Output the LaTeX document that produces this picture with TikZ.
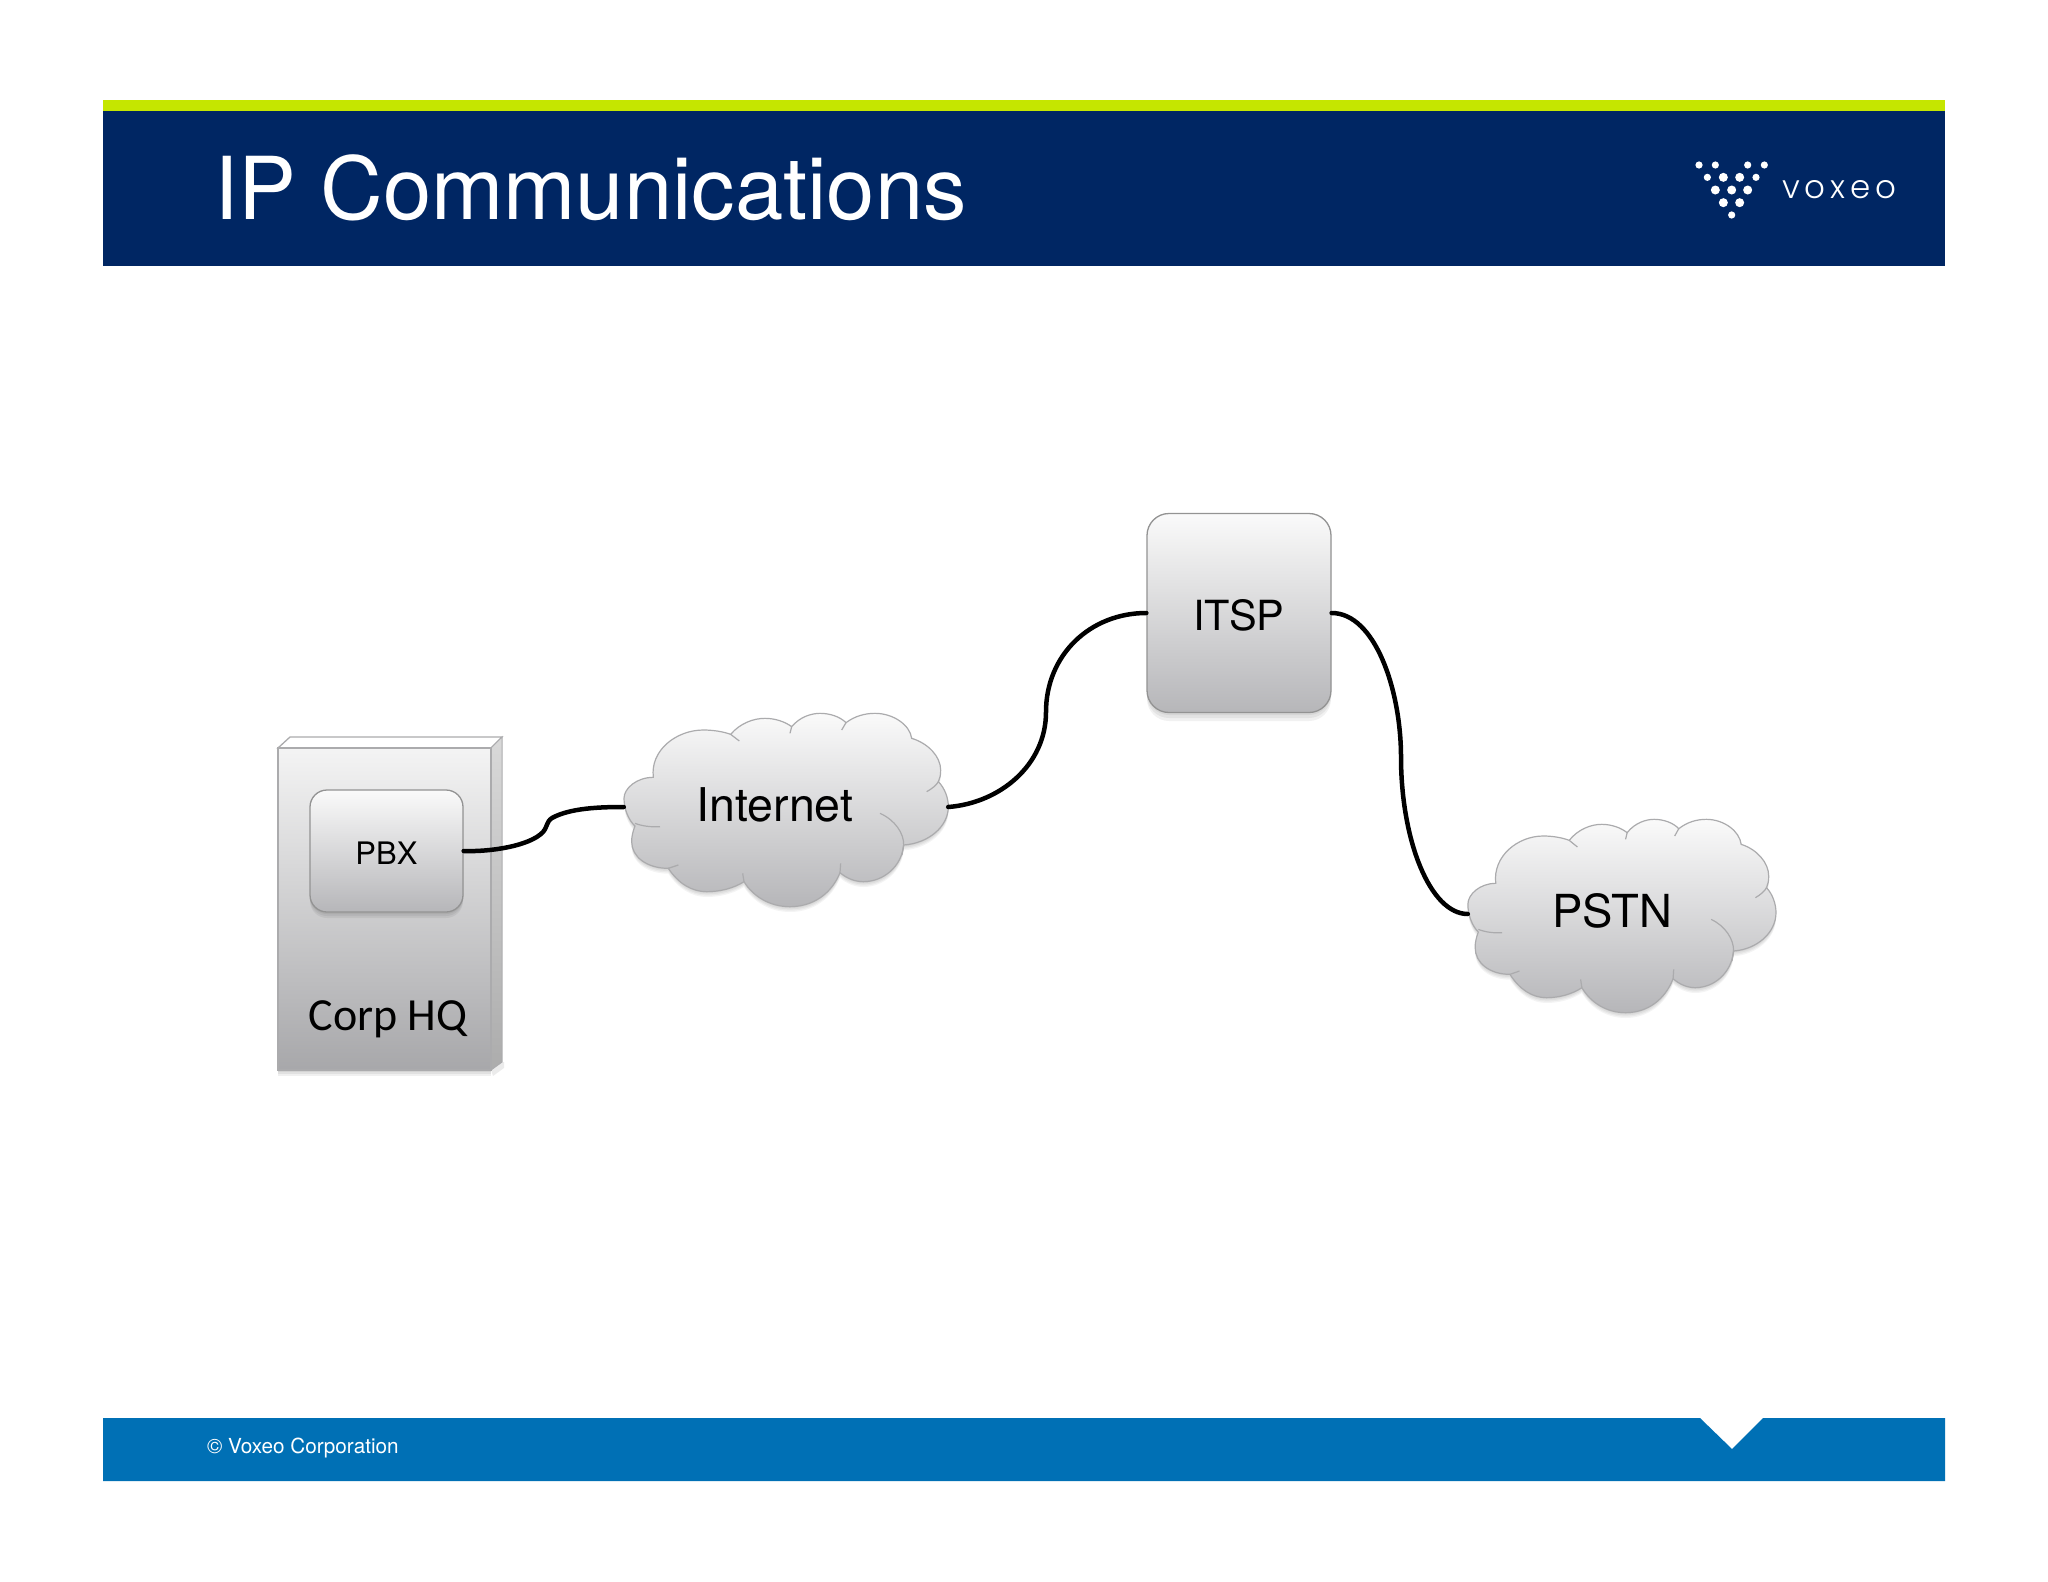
\documentclass[tikz,border=0pt]{standalone}
\usepackage{fontspec}
\setmainfont{TeX Gyre Heros}
\newfontfamily\calibrifont{Carlito}
\newfontfamily\logofont[UprightFont={* Light},LetterSpace=15]{Poppins}
\usetikzlibrary{positioning}
\definecolor{navy}{HTML}{002663}
\definecolor{lime}{HTML}{C5E600}
\definecolor{footblue}{HTML}{0070B5}
\definecolor{edgegray}{HTML}{ABABAD}
\definecolor{gradtop}{HTML}{FAFAFA}
\definecolor{gradbot}{HTML}{B6B6B9}
\newcommand{\fs}[1]{\fontsize{#1pt}{#1pt}\selectfont}
\newcommand{\cloudoutline}{
  (160,262) .. controls (150,180) and (230,120) .. (310,120) .. controls (340,120) and (370,125) .. (392,133)
  .. controls (420,100) and (460,85) .. (495,85) .. controls (525,85) and (555,95) .. (575,110)
  .. controls (600,80) and (635,70) .. (660,70) .. controls (690,70) and (720,80) .. (738,98)
  .. controls (765,78) and (795,70) .. (825,70) .. controls (880,70) and (930,105) .. (935,145)
  .. controls (985,160) and (1022,200) .. (1022,240) .. controls (1022,255) and (1020,265) .. (1015,275)
  .. controls (1035,295) and (1045,325) .. (1045,350) .. controls (1045,410) and (985,460) .. (911,465)
  .. controls (905,530) and (850,575) .. (790,575) .. controls (765,575) and (740,565) .. (720,548)
  .. controls (695,610) and (640,650) .. (570,650) .. controls (510,650) and (460,620) .. (432,575)
  .. controls (400,595) and (360,605) .. (320,605) .. controls (275,605) and (235,580) .. (205,535)
  .. controls (140,535) and (95,500) .. (95,455) .. controls (95,440) and (98,425) .. (105,408)
  .. controls (85,390) and (72,355) .. (72,325) .. controls (72,295) and (110,262) .. (160,262) -- cycle}
\newcommand{\cloudshape}{%
  \foreach \d in {4,8,12,16}{\fill[black,opacity=.045,yshift=-\d pt] \cloudoutline;}
  \path[cloudskin] \cloudoutline;
  \draw[cloudline] (105,400) .. controls (125,408) and (155,412) .. (180,410);
  \draw[cloudline] (392,133) -- (418,153);
  \draw[cloudline] (575,110) -- (570,130);
  \draw[cloudline] (738,98) -- (725,120);
  \draw[cloudline] (1015,275) .. controls (1010,285) and (995,297) .. (980,305);
  \draw[cloudline] (840,370) .. controls (885,390) and (912,430) .. (911,465) -- (906,495);
  \draw[cloudline] (720,548) -- (722,520);
  \draw[cloudline] (432,575) -- (428,550);
  \draw[cloudline] (205,535) -- (235,525);
}
\tikzset{
  cloudline/.style={draw=edgegray,line width=1.2pt},
  cloudskin/.style={draw=edgegray,line width=1.2pt,top color=gradtop,bottom color=gradbot},
  softshadow/.style={fill=black,opacity=.055,rounded corners=#1},
  roundbox/.style={draw=gray!85,line width=1.3pt,top color=gradtop,bottom color=gradbot,inner sep=0pt,text=black},
  cloudnode/.style={inner sep=0pt,text=black},
  wire/.style={draw=black,line width=4.5pt,line cap=round},
}
\begin{document}
\begin{tikzpicture}[x=1pt,y=-1pt]
\useasboundingbox (0,0) rectangle (2048,1582);
\fill[white] (0,0) rectangle (2048,1582);
% header
\fill[lime] (103,100) rectangle (1945,111);
\fill[navy] (103,111) rectangle (1945,266);
\node[anchor=base west,inner sep=0pt,text=white,font=\fs{86.8}] (title) at (214,219) {IP Communications};
% logo
\foreach \x/\y/\r in {147/225/3.6,196/225/3.6,293/225/3.6,343/225/3.6,172/262/3.6,220/262/4.5,269/262/4.5,318/262/3.6,196/300/4.5,245/300/4.5,293/300/4.5,220/338/4.5,269/338/4.5,245/375/3.6}
  {\fill[white] ({1650+\x/3},{90+\y/3}) circle (\r pt);}
\node[anchor=base west,inner sep=0pt,text=white,font=\logofont\fs{32.5}] (logo) at (1782,198) {voxeo};
% footer
\fill[footblue] (103,1418) -- (1700,1418) -- (1732,1449) -- (1763,1418) -- (1945,1418) -- (1945,1481) -- (103,1481) -- cycle;
\node[anchor=base west,inner sep=0pt,text=white,font=\fs{20.7}] (copy) at (207,1453.5) {© Voxeo Corporation};
% Corp HQ building
\foreach \d in {2,4,6}{\fill[black,opacity=.06] (278,748) rectangle (491,{1070+\d});}
\fill[black,opacity=.08] (491,1070) -- (502,1062) -- (504,1062) -- (504,1068) -- (493,1076) -- cycle;
\path[draw=edgegray,line width=1.3pt,fill=white] (278,748) -- (290,737) -- (502,737) -- (491,748) -- cycle;
\path[draw=edgegray,line width=1pt,top color=gray!30,bottom color=gray!65] (491,748) -- (502,737) -- (502,1062) -- (491,1070) -- cycle;
\path[draw=edgegray,line width=1.3pt,top color=gradtop!95!gray,bottom color=gradbot!92!black] (278,748) rectangle (491,1070);
\node[anchor=base,inner sep=0pt,text=black,font=\calibrifont\fs{46}] (hq) at (388,1030) {Corp HQ};
% PBX
\foreach \d in {2,4,6}{\fill[softshadow=17pt] (310,790) rectangle (463,{912+\d});}
\node[roundbox,rounded corners=17pt,minimum width=153pt,minimum height=122pt,font=\fs{31}] (pbx) at (386.5,851) {\raisebox{-2.3pt}[\height][0pt]{PBX}};
% ITSP
\foreach \d in {3,6,9}{\fill[softshadow=22pt] (1147,513) rectangle (1331,{712+\d});}
\node[roundbox,rounded corners=22pt,minimum width=184pt,minimum height=199pt,font=\fs{41.5}] (itsp) at (1239,613) {\raisebox{-2pt}[\height][0pt]{ITSP}};
% clouds
\begin{scope}[shift={(600,690)},xscale=1/3,yscale=1/3]
  \cloudshape
\end{scope}
\begin{scope}[shift={(1440,790)},xscale=.95/3,yscale=1/3,xshift=16pt,yshift=-18pt]
  \cloudshape
\end{scope}
\node[cloudnode,minimum width=324pt,minimum height=194pt,font=\fs{46.5}] (internet) at (786,807) {\hspace*{-22pt}\raisebox{2pt}[\height][0pt]{Internet}};
\node[cloudnode,minimum width=308pt,minimum height=194pt,font=\fs{45.5}] (pstn) at (1622,914) {\hspace*{-20pt}\raisebox{3.3pt}[\height][0pt]{PSTN}};
% connectors
\draw[wire] (pbx.east) .. controls (490,852) and (530,846) .. (543,832) .. controls (548,826) and (546,822) .. (552,818) .. controls (570,808) and (600,807) .. (internet.west);
\draw[wire] (internet.east) .. controls (1000,803) and (1046,765) .. (1046,712) .. controls (1046,655) and (1090,613) .. (itsp.west);
\draw[wire] (itsp.east) .. controls (1375,613) and (1401,690) .. (1401,757) .. controls (1401,840) and (1430,914) .. (pstn.west);
\end{tikzpicture}
\end{document}
